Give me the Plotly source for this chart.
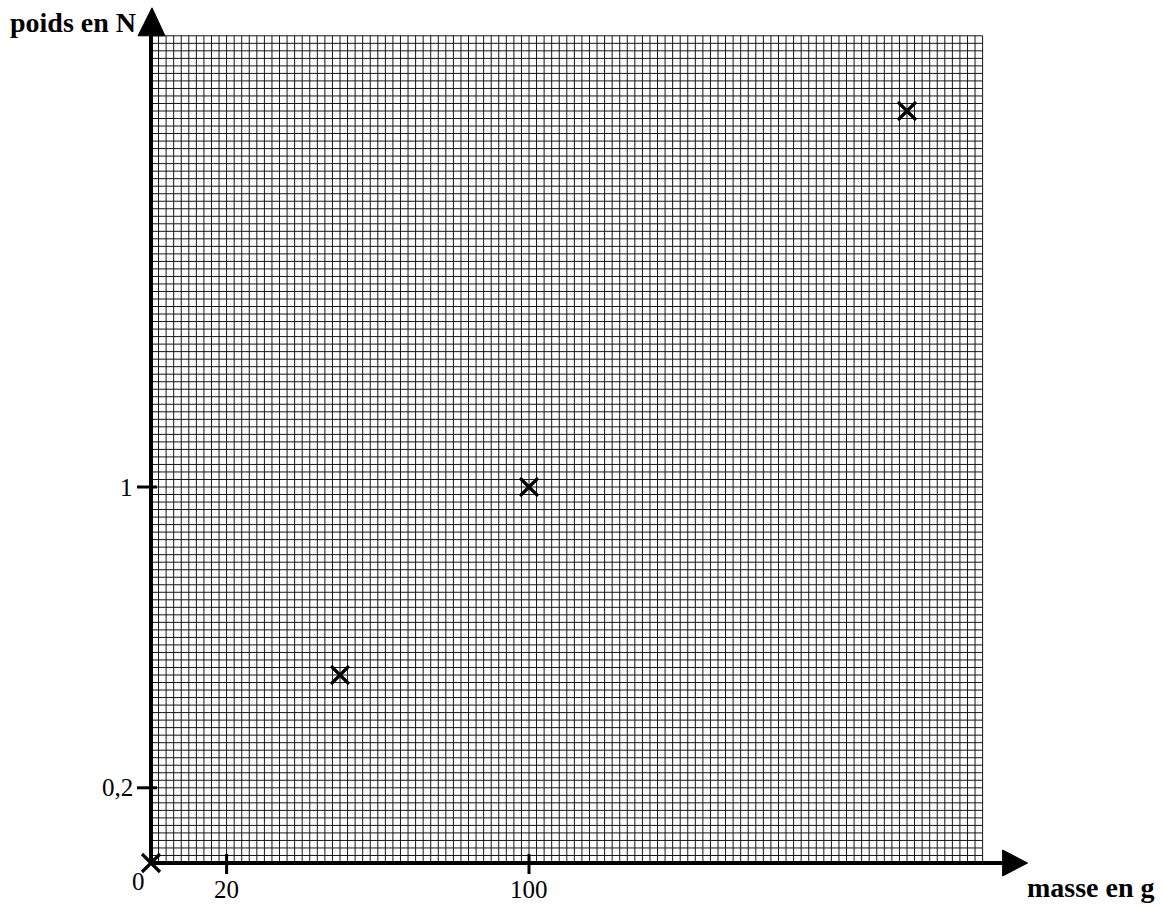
import plotly.graph_objects as go

# ---- data ----
masse = [0, 50, 100, 200]          # g
poids = [0, 0.5, 1.0, 2.0]         # N
x_ticks = [20, 100]
x_tick_labels = ["20", "100"]
y_ticks = [0.2, 1]
y_tick_labels = ["0,2", "1"]
grid_x_max = 220
grid_y_max = 2.2
grid_dx = 2
grid_dy = 0.02

W, H = 1163, 906
ox, oy = 151, 863           # pixel position of origin
sx, sy = 3.78, 376.0        # pixels per unit

x_range = [-ox / sx, (W - ox) / sx]
y_range = [-(H - oy) / sy, oy / sy]

def px_x(p):
    return p / sx

def px_y(p):
    return p / sy

fig = go.Figure()

# grid
gx, gy = [], []
n_x = int(round(grid_x_max / grid_dx))
n_y = int(round(grid_y_max / grid_dy))
for i in range(n_x + 1):
    x = i * grid_dx
    gx += [x, x, None]
    gy += [0, grid_y_max, None]
for j in range(n_y + 1):
    y = j * grid_dy
    gx += [0, grid_x_max, None]
    gy += [y, y, None]
fig.add_trace(go.Scatter(x=gx, y=gy, mode="lines",
                         line=dict(color="#141414", width=1),
                         hoverinfo="skip", showlegend=False))

# axes lines
fig.add_trace(go.Scatter(x=[0, 0], y=[0, grid_y_max], mode="lines",
                         line=dict(color="black", width=4), showlegend=False, hoverinfo="skip"))
fig.add_trace(go.Scatter(x=[0, grid_x_max + px_x(20)], y=[0, 0], mode="lines",
                         line=dict(color="black", width=4), showlegend=False, hoverinfo="skip"))

# arrow heads
ytop = grid_y_max
fig.add_trace(go.Scatter(
    x=[-px_x(13), px_x(14), px_x(1), -px_x(13)],
    y=[ytop, ytop, ytop + px_y(28), ytop],
    fill="toself", fillcolor="black", mode="lines",
    line=dict(color="black", width=1), showlegend=False, hoverinfo="skip"))
xa = grid_x_max + px_x(20)
fig.add_trace(go.Scatter(
    x=[xa, xa, xa + px_x(25), xa],
    y=[px_y(13), -px_y(13), 0, px_y(13)],
    fill="toself", fillcolor="black", mode="lines",
    line=dict(color="black", width=1), showlegend=False, hoverinfo="skip"))

# tick marks
tx, ty = [], []
for v in x_ticks:
    tx += [v, v, None]
    ty += [px_y(9), -px_y(11), None]
for v in y_ticks:
    tx += [-px_x(14), px_x(6), None]
    ty += [v, v, None]
fig.add_trace(go.Scatter(x=tx, y=ty, mode="lines",
                         line=dict(color="black", width=3), showlegend=False, hoverinfo="skip"))

# data points
fig.add_trace(go.Scatter(x=masse, y=poids, mode="markers",
                         marker=dict(symbol="x-thin", size=18,
                                     line=dict(color="black", width=3.2), color="black"),
                         showlegend=False, hoverinfo="skip"))

serif = "Liberation Serif, Times New Roman, serif"
TS = 25
ann = []
for v, t in zip(x_ticks, x_tick_labels):
    ann.append(dict(x=v, y=0, xref="x", yref="y", text=t, showarrow=False,
                    yshift=-26, font=dict(family=serif, size=TS, color="black")))
ann.append(dict(x=0, y=0, xref="x", yref="y", text="0", showarrow=False,
                xshift=-13, yshift=-18, font=dict(family=serif, size=TS, color="black")))
for v, t in zip(y_ticks, y_tick_labels):
    ann.append(dict(x=0, y=v, xref="x", yref="y", text=t, showarrow=False,
                    xanchor="right", xshift=-16, font=dict(family=serif, size=TS, color="black")))
ann.append(dict(x=8 / W, y=1 - 22 / H, xref="paper", yref="paper",
                text="<b>poids en N</b>",
                showarrow=False, xanchor="left", yanchor="middle",
                font=dict(family=serif, size=28, color="black")))
ann.append(dict(x=1157 / W, y=1 - 887 / H, xref="paper", yref="paper",
                text="<b>masse en g</b>",
                showarrow=False, xanchor="right", yanchor="middle",
                font=dict(family=serif, size=28, color="black")))

fig.update_layout(
    width=W, height=H,
    margin=dict(l=0, r=0, t=0, b=0),
    paper_bgcolor="white", plot_bgcolor="white",
    xaxis=dict(range=x_range, visible=False, fixedrange=True),
    yaxis=dict(range=y_range, visible=False, fixedrange=True),
    annotations=ann,
    hovermode=False,
)

fig.write_html("out.html",
               config={"displayModeBar": False, "staticPlot": True},
               post_script="document.body.style.margin='0';document.body.style.overflow='hidden';")
